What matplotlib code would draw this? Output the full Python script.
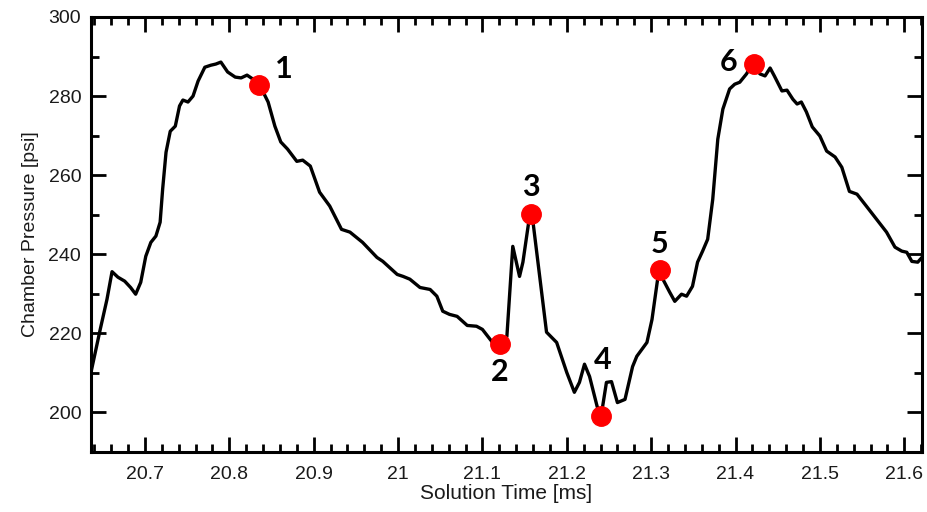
import matplotlib
matplotlib.use('Agg')
import matplotlib.pyplot as plt
from matplotlib.ticker import MultipleLocator, FormatStrFormatter

plt.rcParams['font.family'] = ['Liberation Sans', 'DejaVu Sans']

# 曲线数据
time_ms = [20.636, 20.647, 20.655, 20.661, 20.668, 20.676, 20.683, 20.689, 20.695, 20.701,
           20.707, 20.713, 20.718, 20.721, 20.725, 20.730, 20.736, 20.741, 20.745, 20.751,
           20.757, 20.763, 20.771, 20.778, 20.784, 20.790, 20.798, 20.807, 20.814, 20.821,
           20.828, 20.836, 20.846, 20.854, 20.861, 20.869, 20.880, 20.887, 20.896, 20.907,
           20.919, 20.933, 20.943, 20.958, 20.975, 20.982, 20.999, 21.006, 21.014, 21.026,
           21.038, 21.046, 21.053, 21.061, 21.070, 21.082, 21.093, 21.100, 21.112, 21.121,
           21.129, 21.136, 21.144, 21.148, 21.156, 21.160, 21.176, 21.188, 21.200, 21.209,
           21.215, 21.221, 21.227, 21.236, 21.241, 21.247, 21.253, 21.260, 21.269, 21.278,
           21.283, 21.295, 21.301, 21.309, 21.322, 21.328, 21.336, 21.342, 21.349, 21.355,
           21.361, 21.367, 21.373, 21.379, 21.385, 21.393, 21.399, 21.405, 21.413, 21.420,
           21.429, 21.435, 21.441, 21.446, 21.455, 21.461, 21.468, 21.473, 21.478, 21.484,
           21.491, 21.500, 21.508, 21.518, 21.526, 21.535, 21.544, 21.555, 21.567, 21.579,
           21.589, 21.597, 21.603, 21.609, 21.616, 21.621]
pressure_psi = [210.1, 221.0, 228.6, 235.6, 234.2, 233.2, 231.6, 229.9, 232.9, 239.5,
                243.0, 244.6, 248.1, 256.5, 265.8, 271.1, 272.4, 277.5, 279.0, 278.5,
                280.0, 283.8, 287.3, 287.8, 288.1, 288.6, 286.1, 284.8, 284.6, 285.3,
                284.3, 282.8, 278.5, 272.4, 268.4, 266.6, 263.5, 263.8, 262.3, 255.7,
                252.2, 246.3, 245.6, 243.0, 239.2, 238.2, 234.9, 234.4, 233.7, 231.6,
                231.1, 229.4, 225.6, 224.8, 224.3, 222.0, 221.8, 221.0, 217.7, 216.9,
                219.2, 242.0, 234.4, 238.0, 249.8, 248.1, 220.3, 217.7, 210.1, 205.1,
                207.6, 212.2, 209.1, 201.5, 199.5, 207.6, 207.8, 202.5, 203.3, 211.6,
                214.2, 217.7, 223.5, 235.7, 230.4, 228.1, 229.9, 229.4, 231.9, 238.0,
                240.8, 243.8, 253.9, 269.1, 276.7, 281.8, 283.0, 283.5, 285.6, 288.1,
                285.6, 285.1, 287.1, 285.1, 281.3, 281.5, 279.2, 278.0, 278.5, 276.0,
                272.2, 269.9, 266.1, 264.6, 262.0, 255.9, 255.2, 252.2, 248.9, 245.6,
                241.8, 240.8, 240.5, 238.2, 238.0, 239.2]

# 标记点
mark_labels = ['1', '2', '3', '4', '5', '6']
mark_time = [20.835, 21.121, 21.157, 21.241, 21.310, 21.422]
mark_pressure = [282.8, 217.2, 250.1, 199.2, 236.0, 288.1]
# 标签相对标记点的偏移（像素）
label_offsets = [(25, 16), (0, -28), (0, 27), (1, 56), (0, 26), (-26, 2)]

fig = plt.figure(figsize=(9.28, 5.12), dpi=100)
ax = fig.add_axes([0.098, 0.1172, 0.8955, 0.8496])

ax.plot(time_ms, pressure_psi, color='black', lw=2.4, solid_joinstyle='round')
ax.plot(mark_time, mark_pressure, 'o', color='#ff0000', markersize=14, zorder=5)

for lab, xt, yp, off in zip(mark_labels, mark_time, mark_pressure, label_offsets):
    ax.annotate(lab, (xt, yp), xytext=off, textcoords='offset pixels',
                ha='center', va='center', fontsize=22, fontweight='bold',
                family=['Lato', 'DejaVu Sans'], color='black')

ax.set_xlim(20.636, 21.621)
ax.set_ylim(190, 300)

ax.xaxis.set_major_locator(MultipleLocator(0.1))
ax.xaxis.set_minor_locator(MultipleLocator(0.02))
ax.xaxis.set_major_formatter(FormatStrFormatter('%g'))
ax.yaxis.set_major_locator(MultipleLocator(20))
ax.yaxis.set_minor_locator(MultipleLocator(10))

ax.tick_params(which='both', direction='in', top=True, right=True, width=2, colors='black',
               labelsize=14, labelcolor='#1a1a1a')
ax.tick_params(which='major', length=11, pad=7)
ax.tick_params(axis='x', which='major', pad=10)
ax.tick_params(which='minor', length=5.5)

for sp in ax.spines.values():
    sp.set_linewidth(2.2)

ax.set_xlabel('Solution Time [ms]', fontsize=15, color='#1a1a1a', labelpad=1)
ax.set_ylabel('Chamber Pressure [psi]', fontsize=14, color='#1a1a1a', labelpad=7)

fig.savefig('out.png', dpi=100)
